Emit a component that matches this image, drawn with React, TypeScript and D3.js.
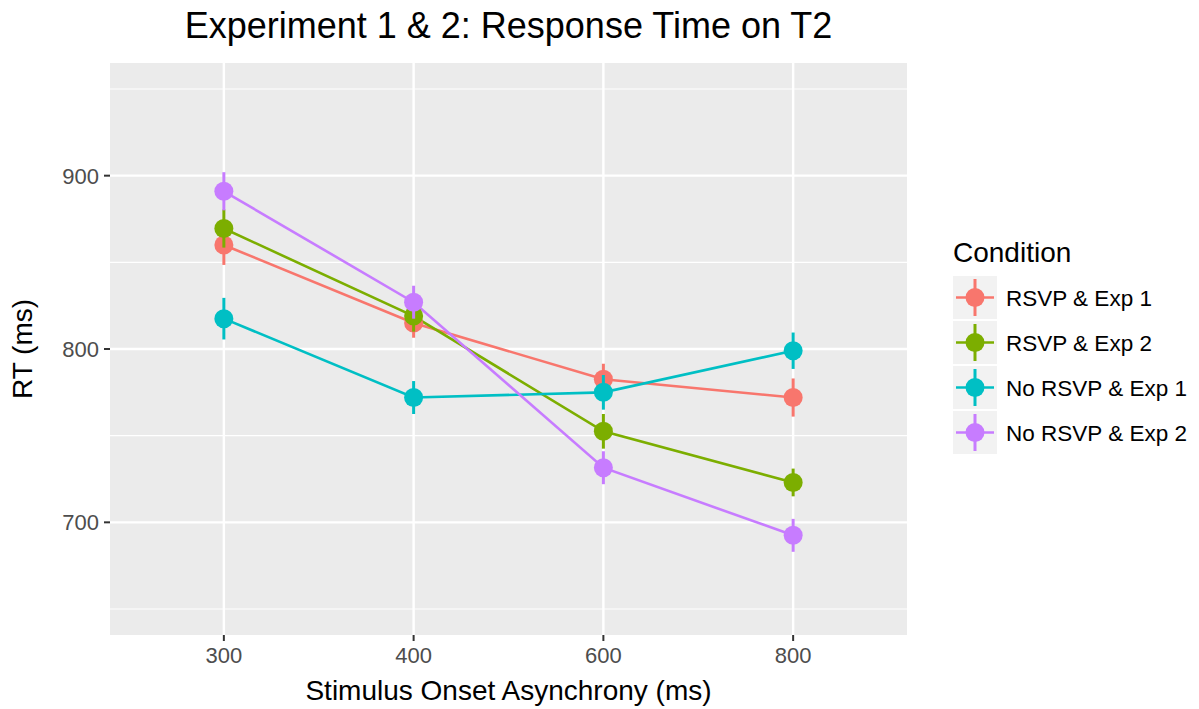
import React from 'react';
import * as d3 from 'd3';

// Stimulus onset asynchrony levels (discrete x axis)
const soaLevels = ['300', '400', '600', '800'];

// Condition names and their hue-palette colours
const conditions = ['RSVP & Exp 1', 'RSVP & Exp 2', 'No RSVP & Exp 1', 'No RSVP & Exp 2'];
const conditionColors = ['#F8766D', '#7CAE00', '#00BFC4', '#C77CFF'];

// Mean response time (ms) per SOA level
const meanRsvpExp1 = [860, 815, 782.5, 772];
const meanRsvpExp2 = [869.5, 819, 752.5, 723];
const meanNoRsvpExp1 = [817.5, 772, 775, 799];
const meanNoRsvpExp2 = [891, 827, 731.5, 692.5];

// Standard error (ms) per SOA level
const seRsvpExp1 = [11.5, 8.5, 9, 11];
const seRsvpExp2 = [11, 9, 10, 8];
const seNoRsvpExp1 = [12, 9.5, 10, 10.5];
const seNoRsvpExp2 = [11, 9.5, 9.5, 9.5];

const yTicks = [700, 800, 900];
const yMinorTicks = [650, 750, 850, 950];
const yLimits = [650, 950];

const W = 1199;
const H = 709;
const panel = { left: 110, right: 907, top: 63, bottom: 635 };
const FONT = '"Liberation Sans", Arial, Helvetica, sans-serif';

export default function App() {
  const means = [meanRsvpExp1, meanRsvpExp2, meanNoRsvpExp1, meanNoRsvpExp2];
  const ses = [seRsvpExp1, seRsvpExp2, seNoRsvpExp1, seNoRsvpExp2];

  const x = d3.scalePoint<string>().domain(soaLevels).range([panel.left, panel.right]).padding(0.6);
  const span = yLimits[1] - yLimits[0];
  const y = d3
    .scaleLinear()
    .domain([yLimits[0] - span * 0.05, yLimits[1] + span * 0.05])
    .range([panel.bottom, panel.top]);

  const series = conditions.map((name, i) => ({
    name,
    color: conditionColors[i],
    points: soaLevels.map((s, j) => ({ soa: s, mean: means[i][j], se: ses[i][j] })),
  }));

  const line = d3
    .line<{ soa: string; mean: number }>()
    .x((d) => x(d.soa) as number)
    .y((d) => y(d.mean));

  const legendX = 953;
  const keyW = 44;
  const keyH = 43;
  const keyTop = 276;
  const keyStep = 45;

  return (
    <svg
      width={W}
      height={H}
      style={{ position: 'absolute', left: 0, top: 0, background: '#ffffff' }}
      fontFamily={FONT}
    >
      <rect x={0} y={0} width={W} height={H} fill="#ffffff" />
      {/* panel */}
      <rect
        x={panel.left}
        y={panel.top}
        width={panel.right - panel.left}
        height={panel.bottom - panel.top}
        fill="#EBEBEB"
      />
      {yMinorTicks.map((t) => (
        <line key={'mn' + t} x1={panel.left} x2={panel.right} y1={y(t)} y2={y(t)} stroke="#ffffff" strokeWidth={1.2} />
      ))}
      {yTicks.map((t) => (
        <line key={'mj' + t} x1={panel.left} x2={panel.right} y1={y(t)} y2={y(t)} stroke="#ffffff" strokeWidth={2.4} />
      ))}
      {soaLevels.map((s) => (
        <line key={'vx' + s} x1={x(s)} x2={x(s)} y1={panel.top} y2={panel.bottom} stroke="#ffffff" strokeWidth={2.4} />
      ))}

      {/* lines */}
      {series.map((s) => (
        <path key={'l' + s.name} d={line(s.points) || ''} fill="none" stroke={s.color} strokeWidth={2.6} />
      ))}
      {/* point ranges */}
      {series.map((s) => (
        <g key={'p' + s.name}>
          {s.points.map((p) => (
            <g key={p.soa}>
              <line
                x1={x(p.soa)}
                x2={x(p.soa)}
                y1={y(p.mean - p.se)}
                y2={y(p.mean + p.se)}
                stroke={s.color}
                strokeWidth={3}
              />
              <circle cx={x(p.soa)} cy={y(p.mean)} r={9.5} fill={s.color} />
            </g>
          ))}
        </g>
      ))}

      {/* y axis */}
      {yTicks.map((t) => (
        <g key={'yt' + t}>
          <line x1={panel.left - 6} x2={panel.left} y1={y(t)} y2={y(t)} stroke="#333333" strokeWidth={2} />
          <text x={panel.left - 11} y={y(t)} dy="0.36em" textAnchor="end" fontSize={22} fill="#4D4D4D">
            {t}
          </text>
        </g>
      ))}
      {/* x axis */}
      {soaLevels.map((s) => (
        <g key={'xt' + s}>
          <line x1={x(s)} x2={x(s)} y1={panel.bottom} y2={panel.bottom + 6} stroke="#333333" strokeWidth={2} />
          <text x={x(s)} y={663} textAnchor="middle" fontSize={22} fill="#4D4D4D">
            {s}
          </text>
        </g>
      ))}

      {/* axis titles */}
      <text x={(panel.left + panel.right) / 2} y={700} textAnchor="middle" fontSize={28} fill="#000000">
        Stimulus Onset Asynchrony (ms)
      </text>
      <text
        transform={`translate(32,${(panel.top + panel.bottom) / 2}) rotate(-90)`}
        textAnchor="middle"
        fontSize={28}
        fill="#000000"
      >
        RT (ms)
      </text>

      {/* title */}
      <text x={(panel.left + panel.right) / 2} y={38} textAnchor="middle" fontSize={36} fill="#000000">
        Experiment 1 &amp; 2: Response Time on T2
      </text>

      {/* legend */}
      <text x={legendX} y={262} fontSize={28} fill="#000000">
        Condition
      </text>
      {series.map((s, i) => {
        const ky = keyTop + i * keyStep;
        const cx = legendX + keyW / 2;
        const cy = ky + keyH / 2;
        return (
          <g key={'lg' + s.name}>
            <rect x={legendX} y={ky} width={keyW} height={keyH} fill="#F2F2F2" />
            <line x1={legendX + 3} x2={legendX + keyW - 3} y1={cy} y2={cy} stroke={s.color} strokeWidth={2.6} />
            <line x1={cx} x2={cx} y1={ky + 3} y2={ky + keyH - 3} stroke={s.color} strokeWidth={3} />
            <circle cx={cx} cy={cy} r={9.5} fill={s.color} />
            <text x={legendX + keyW + 9} y={cy} dy="0.36em" fontSize={22.5} fill="#000000">
              {s.name}
            </text>
          </g>
        );
      })}
    </svg>
  );
}
